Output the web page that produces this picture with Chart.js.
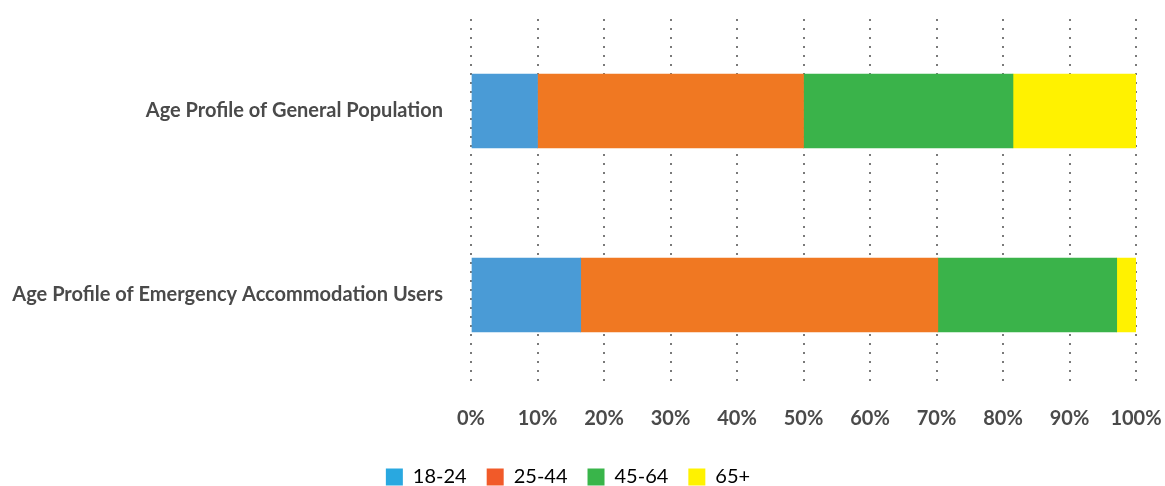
<!DOCTYPE html>
<html>
<head>
<meta charset="utf-8">
<script src="https://cdn.jsdelivr.net/npm/chart.js@4/dist/chart.umd.min.js"></script>
<style>
    html, body { margin: 0; padding: 0; background: #fff; }
    #wrap { width: 1165px; height: 486px; }
</style>
</head>
<body>
<div id="wrap"><canvas id="ageChart"></canvas></div>
<script>
// 카테고리 / 시리즈 데이터
const categories = ['Age Profile of General Population', 'Age Profile of Emergency Accommodation Users'];
const seriesNames = ['18-24', '25-44', '45-64', '65+'];
const age18to24 = [10.0, 16.5];
const age25to44 = [40.0, 53.7];
const age45to64 = [31.5, 26.9];
const age65plus = [18.5, 2.9];
const xTicks = [0, 10, 20, 30, 40, 50, 60, 70, 80, 90, 100];

const barColors = ['#4a9bd6', '#f07822', '#3ab34a', '#fff200'];
const legendColors = ['#29a8e0', '#f15a29', '#39b54a', '#fff200'];
const textColor = '#4a4a4a';

const seriesValues = [age18to24, age25to44, age45to64, age65plus];

Chart.defaults.font.family = 'Lato, "Open Sans", sans-serif';
Chart.defaults.color = textColor;

// 축 라벨 때문에 생기는 여백 제거 (차트 영역은 layout.padding 으로 고정)
function clearScalePadding(scale) {
    scale.paddingTop = 0;
    scale.paddingBottom = 0;
    scale.paddingLeft = 0;
    scale.paddingRight = 0;
}

const ageChart = new Chart(document.getElementById('ageChart'), {
    type: 'bar',
    data: {
        labels: categories,
        datasets: seriesNames.map((name, i) => ({
            label: name,
            data: seriesValues[i],
            backgroundColor: barColors[i],
            borderWidth: 0,
            barThickness: 74
        }))
    },
    options: {
        indexAxis: 'y',
        responsive: true,
        maintainAspectRatio: false,
        animation: false,
        layout: {
            padding: { top: 19, right: 29, left: 0, bottom: 0 }
        },
        plugins: {
            tooltip: { enabled: false },
            legend: {
                position: 'bottom',
                maxHeight: 39,
                labels: {
                    boxWidth: 17,
                    boxHeight: 17,
                    padding: 20,
                    font: { size: 20 },
                    color: textColor,
                    generateLabels: function(chart) {
                        return seriesNames.map((name, i) => ({
                            text: name,
                            fillStyle: legendColors[i],
                            strokeStyle: legendColors[i],
                            lineWidth: 0,
                            datasetIndex: i
                        }));
                    }
                }
            }
        },
        scales: {
            x: {
                stacked: true,
                min: 0,
                max: 100,
                afterBuildTicks: function(scale) {
                    scale.ticks = xTicks.map(v => ({ value: v }));
                },
                afterFit: function(scale) {
                    scale.height = 60;
                    clearScalePadding(scale);
                },
                grid: {
                    color: '#7a7a7a',
                    lineWidth: 2,
                    drawTicks: false
                },
                border: {
                    display: false,
                    dash: [2, 7]
                },
                ticks: {
                    padding: 20,
                    maxRotation: 0,
                    autoSkip: false,
                    font: { size: 20, weight: 'bold' },
                    color: textColor,
                    callback: function(v) { return v + '%'; }
                }
            },
            y: {
                stacked: true,
                afterFit: function(scale) {
                    scale.width = 471;
                    clearScalePadding(scale);
                },
                grid: { display: false },
                border: { display: false },
                ticks: {
                    padding: 20,
                    font: { size: 20, weight: 'bold' },
                    color: textColor
                }
            }
        }
    }
});
</script>
</body>
</html>
